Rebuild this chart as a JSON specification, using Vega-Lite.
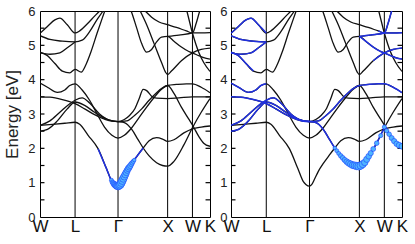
{
"$schema": "https://vega.github.io/schema/vega-lite/v6.json",
"padding": {"left": 3, "top": 4, "right": 0, "bottom": 0},
"spacing": 21,
"bounds": "flush",
"config": {"view": {"stroke": "black", "strokeWidth": 1}, "font": "Liberation Sans", "axis": {"grid": false, "domain": false, "labelColor": "#222", "titleColor": "#222"}},
"datasets": {
"sym": [{"k": 0.707}, {"k": 1.573}, {"k": 2.573}, {"k": 3.073}],
"yt": [{"v":0.5},{"v":1},{"v":1.5},{"v":2},{"v":2.5},{"v":3},{"v":3.5},{"v":4},{"v":4.5},{"v":5},{"v":5.5}],
"bands": [
{"b":"A","k":0,"e":2.67},{"b":"A","k":0.25,"e":2.7},{"b":"A","k":0.5,"e":2.73},{"b":"A","k":0.707,"e":2.76},{"b":"A","k":0.8,"e":2.7},{"b":"A","k":0.97,"e":2.38},{"b":"A","k":1.17,"e":1.99},{"b":"A","k":1.34,"e":1.41},{"b":"A","k":1.45,"e":1.03},{"b":"A","k":1.5,"e":0.95},{"b":"A","k":1.573,"e":0.9},{"b":"A","k":1.62,"e":0.95},{"b":"A","k":1.68,"e":1.12},{"b":"A","k":1.75,"e":1.33},{"b":"A","k":1.85,"e":1.56},{"b":"A","k":1.97,"e":1.8},{"b":"A","k":2.08,"e":2.01},{"b":"A","k":2.2,"e":2.22},{"b":"A","k":2.35,"e":2.31},{"b":"A","k":2.47,"e":2.27},{"b":"A","k":2.573,"e":2.2},{"b":"A","k":2.7,"e":2.25},{"b":"A","k":2.9,"e":2.45},{"b":"A","k":3.073,"e":2.57},{"b":"A","k":3.25,"e":2.62},{"b":"A","k":3.427,"e":2.65},
{"b":"B","k":0,"e":2.5},{"b":"B","k":0.15,"e":2.55},{"b":"B","k":0.35,"e":2.8},{"b":"B","k":0.55,"e":3.15},{"b":"B","k":0.707,"e":3.35},{"b":"B","k":0.9,"e":3.25},{"b":"B","k":1.1,"e":3.05},{"b":"B","k":1.3,"e":2.88},{"b":"B","k":1.45,"e":2.8},{"b":"B","k":1.573,"e":2.78},{"b":"B","k":1.7,"e":2.75},{"b":"B","k":1.85,"e":2.55},{"b":"B","k":1.97,"e":2.27},{"b":"B","k":2.08,"e":2.01},{"b":"B","k":2.2,"e":1.78},{"b":"B","k":2.35,"e":1.58},{"b":"B","k":2.47,"e":1.5},{"b":"B","k":2.573,"e":1.48},{"b":"B","k":2.7,"e":1.62},{"b":"B","k":2.9,"e":2.1},{"b":"B","k":3.073,"e":2.6},{"b":"B","k":3.25,"e":3.05},{"b":"B","k":3.427,"e":3.45},
{"b":"C","k":0,"e":2.67},{"b":"C","k":0.2,"e":2.8},{"b":"C","k":0.4,"e":3.05},{"b":"C","k":0.6,"e":3.3},{"b":"C","k":0.707,"e":3.4},{"b":"C","k":0.85,"e":3.47},{"b":"C","k":1.0,"e":3.32},{"b":"C","k":1.2,"e":3.0},{"b":"C","k":1.4,"e":2.82},{"b":"C","k":1.573,"e":2.78},{"b":"C","k":1.75,"e":2.8},{"b":"C","k":1.9,"e":2.95},{"b":"C","k":2.05,"e":3.15},{"b":"C","k":2.2,"e":3.4},{"b":"C","k":2.35,"e":3.62},{"b":"C","k":2.47,"e":3.76},{"b":"C","k":2.573,"e":3.83},{"b":"C","k":2.75,"e":3.86},{"b":"C","k":2.95,"e":3.88},{"b":"C","k":3.073,"e":3.88},{"b":"C","k":3.25,"e":3.78},{"b":"C","k":3.427,"e":3.62},
{"b":"D","k":0,"e":3.5},{"b":"D","k":0.2,"e":3.49},{"b":"D","k":0.45,"e":3.42},{"b":"D","k":0.707,"e":3.3},{"b":"D","k":0.9,"e":3.15},{"b":"D","k":1.1,"e":2.98},{"b":"D","k":1.3,"e":2.85},{"b":"D","k":1.45,"e":2.79},{"b":"D","k":1.573,"e":2.78},{"b":"D","k":1.7,"e":2.84},{"b":"D","k":1.8,"e":2.95},{"b":"D","k":1.915,"e":3.16},{"b":"D","k":2.0,"e":3.45},{"b":"D","k":2.08,"e":3.72},{"b":"D","k":2.15,"e":3.68},{"b":"D","k":2.25,"e":3.52},{"b":"D","k":2.35,"e":3.46},{"b":"D","k":2.573,"e":3.45},{"b":"D","k":2.8,"e":3.47},{"b":"D","k":3.073,"e":3.5},{"b":"D","k":3.25,"e":3.5},{"b":"D","k":3.427,"e":3.5},
{"b":"E","k":0,"e":3.9},{"b":"E","k":0.15,"e":3.78},{"b":"E","k":0.35,"e":3.63},{"b":"E","k":0.5,"e":3.7},{"b":"E","k":0.6,"e":3.83},{"b":"E","k":0.707,"e":3.88},{"b":"E","k":0.85,"e":3.7},{"b":"E","k":1.0,"e":3.4},{"b":"E","k":1.15,"e":3.0},{"b":"E","k":1.3,"e":2.62},{"b":"E","k":1.45,"e":2.38},{"b":"E","k":1.573,"e":2.3},{"b":"E","k":1.7,"e":2.38},{"b":"E","k":1.85,"e":2.6},{"b":"E","k":2.0,"e":2.9},{"b":"E","k":2.15,"e":3.2},{"b":"E","k":2.3,"e":3.48},{"b":"E","k":2.45,"e":3.72},{"b":"E","k":2.573,"e":3.83},{"b":"E","k":2.7,"e":3.6},{"b":"E","k":2.85,"e":3.2},{"b":"E","k":3.0,"e":2.85},{"b":"E","k":3.073,"e":2.68},{"b":"E","k":3.2,"e":2.35},{"b":"E","k":3.3,"e":2.15},{"b":"E","k":3.427,"e":2.06},
{"b":"F","k":0,"e":4.8},{"b":"F","k":0.15,"e":4.7},{"b":"F","k":0.3,"e":4.47},{"b":"F","k":0.45,"e":4.25},{"b":"F","k":0.6,"e":4.2},{"b":"F","k":0.707,"e":4.3},{"b":"F","k":0.83,"e":4.22},{"b":"F","k":0.93,"e":4.45},{"b":"F","k":1.03,"e":4.82},{"b":"F","k":1.15,"e":5.35},{"b":"F","k":1.3,"e":5.98},{"b":"F","k":1.4,"e":6.4},
{"b":"G","k":0,"e":5.35},{"b":"G","k":0.15,"e":5.55},{"b":"G","k":0.3,"e":5.74},{"b":"G","k":0.4,"e":5.79},{"b":"G","k":0.55,"e":5.6},{"b":"G","k":0.707,"e":5.36},{"b":"G","k":0.8,"e":5.42},{"b":"G","k":0.95,"e":5.62},{"b":"G","k":1.1,"e":5.85},{"b":"G","k":1.2,"e":6.0},{"b":"G","k":1.3,"e":6.2},
{"b":"H","k":0,"e":5.28},{"b":"H","k":0.2,"e":5.17},{"b":"H","k":0.45,"e":5.12},{"b":"H","k":0.707,"e":5.1},{"b":"H","k":0.85,"e":5.15},{"b":"H","k":1.0,"e":5.4},{"b":"H","k":1.15,"e":5.75},{"b":"H","k":1.27,"e":6.0},{"b":"H","k":1.35,"e":6.2},
{"b":"I","k":0,"e":4.78},{"b":"I","k":0.2,"e":4.74},{"b":"I","k":0.4,"e":4.78},{"b":"I","k":0.55,"e":4.93},{"b":"I","k":0.707,"e":5.1},
{"b":"K1","k":1.75,"e":6.3},{"b":"K1","k":1.85,"e":5.95},{"b":"K1","k":1.95,"e":5.5},{"b":"K1","k":2.05,"e":5.05},{"b":"K1","k":2.15,"e":4.8},{"b":"K1","k":2.25,"e":4.88},{"b":"K1","k":2.35,"e":5.1},{"b":"K1","k":2.45,"e":5.24},{"b":"K1","k":2.573,"e":5.26},{"b":"K1","k":2.7,"e":5.12},{"b":"K1","k":2.85,"e":4.95},{"b":"K1","k":3.0,"e":4.82},{"b":"K1","k":3.073,"e":4.78},{"b":"K1","k":3.2,"e":4.7},{"b":"K1","k":3.3,"e":4.64},{"b":"K1","k":3.427,"e":4.6},
{"b":"K2","k":1.95,"e":6.2},{"b":"K2","k":2.02,"e":6.0},{"b":"K2","k":2.15,"e":5.6},{"b":"K2","k":2.3,"e":5.05},{"b":"K2","k":2.45,"e":4.5},{"b":"K2","k":2.53,"e":4.22},{"b":"K2","k":2.573,"e":4.15},{"b":"K2","k":2.65,"e":4.25},{"b":"K2","k":2.85,"e":4.55},{"b":"K2","k":3.073,"e":4.78},{"b":"K2","k":3.25,"e":4.88},{"b":"K2","k":3.427,"e":4.92},
{"b":"K3","k":2.05,"e":6.1},{"b":"K3","k":2.12,"e":6.0},{"b":"K3","k":2.25,"e":5.82},{"b":"K3","k":2.4,"e":5.68},{"b":"K3","k":2.573,"e":5.6},{"b":"K3","k":2.75,"e":5.52},{"b":"K3","k":2.95,"e":5.42},{"b":"K3","k":3.073,"e":5.36},{"b":"K3","k":3.25,"e":5.36},{"b":"K3","k":3.427,"e":5.37},
{"b":"S","k":2.9,"e":6.3},{"b":"S","k":2.96,"e":6.0},{"b":"S","k":3.073,"e":5.36},{"b":"S","k":3.2,"e":4.8},{"b":"S","k":3.3,"e":4.5},{"b":"S","k":3.427,"e":4.24},
{"b":"U","k":2.573,"e":5.26},{"b":"U","k":2.8,"e":5.3},{"b":"U","k":3.073,"e":5.36},{"b":"U","k":3.15,"e":5.65},{"b":"U","k":3.22,"e":6.0},{"b":"U","k":3.3,"e":6.3}
],
"blueR": [
{"s":"B","k":0,"e":2.5},{"s":"B","k":0.15,"e":2.55},{"s":"B","k":0.35,"e":2.8},{"s":"B","k":0.55,"e":3.15},{"s":"B","k":0.707,"e":3.35},{"s":"B","k":0.9,"e":3.25},{"s":"B","k":1.1,"e":3.05},{"s":"B","k":1.3,"e":2.88},{"s":"B","k":1.45,"e":2.8},{"s":"B","k":1.573,"e":2.78},{"s":"B","k":1.7,"e":2.75},{"s":"B","k":1.85,"e":2.55},{"s":"B","k":1.97,"e":2.27},{"s":"B","k":2.08,"e":2.01},{"s":"B","k":2.2,"e":1.78},{"s":"B","k":2.35,"e":1.58},{"s":"B","k":2.47,"e":1.5},{"s":"B","k":2.573,"e":1.48},{"s":"B","k":2.7,"e":1.62},{"s":"B","k":2.9,"e":2.1},{"s":"B","k":3.073,"e":2.6},
{"s":"C","k":0,"e":2.67},{"s":"C","k":0.2,"e":2.8},{"s":"C","k":0.4,"e":3.05},{"s":"C","k":0.6,"e":3.3},{"s":"C","k":0.707,"e":3.4},{"s":"C","k":0.85,"e":3.47},{"s":"C","k":1.0,"e":3.32},{"s":"C","k":1.2,"e":3.0},{"s":"C","k":1.4,"e":2.82},{"s":"C","k":1.573,"e":2.78},{"s":"C","k":1.75,"e":2.8},{"s":"C","k":1.9,"e":2.95},{"s":"C","k":2.05,"e":3.15},{"s":"C","k":2.2,"e":3.4},{"s":"C","k":2.35,"e":3.62},{"s":"C","k":2.47,"e":3.76},{"s":"C","k":2.573,"e":3.83},{"s":"C","k":2.75,"e":3.86},{"s":"C","k":2.95,"e":3.88},{"s":"C","k":3.073,"e":3.88},{"s":"C","k":3.25,"e":3.78},{"s":"C","k":3.427,"e":3.62},
{"s":"D","k":0,"e":3.5},{"s":"D","k":0.2,"e":3.49},{"s":"D","k":0.45,"e":3.42},{"s":"D","k":0.707,"e":3.3},{"s":"D","k":0.9,"e":3.15},{"s":"D","k":1.1,"e":2.98},{"s":"D","k":1.3,"e":2.85},{"s":"D","k":1.45,"e":2.79},{"s":"D","k":1.573,"e":2.78},
{"s":"E","k":0,"e":3.9},{"s":"E","k":0.15,"e":3.78},{"s":"E","k":0.35,"e":3.63},{"s":"E","k":0.5,"e":3.7},{"s":"E","k":0.6,"e":3.83},{"s":"E","k":0.707,"e":3.88},
{"s":"E2","k":3.073,"e":2.68},{"s":"E2","k":3.2,"e":2.35},{"s":"E2","k":3.3,"e":2.15},{"s":"E2","k":3.427,"e":2.06},
{"s":"F","k":0,"e":4.8},{"s":"F","k":0.15,"e":4.7},{"s":"F","k":0.3,"e":4.47},{"s":"F","k":0.45,"e":4.25},
{"s":"G","k":0,"e":5.35},{"s":"G","k":0.15,"e":5.55},{"s":"G","k":0.3,"e":5.74},{"s":"G","k":0.4,"e":5.79},{"s":"G","k":0.55,"e":5.6},{"s":"G","k":0.707,"e":5.36},
{"s":"H","k":0,"e":5.28},{"s":"H","k":0.2,"e":5.17},{"s":"H","k":0.45,"e":5.12},{"s":"H","k":0.707,"e":5.1},
{"s":"I","k":0,"e":4.78},{"s":"I","k":0.2,"e":4.74},{"s":"I","k":0.4,"e":4.78},{"s":"I","k":0.55,"e":4.93},{"s":"I","k":0.707,"e":5.1},
{"s":"K1","k":2.573,"e":5.26},{"s":"K1","k":2.7,"e":5.12},{"s":"K1","k":2.85,"e":4.95},{"s":"K1","k":3.0,"e":4.82},{"s":"K1","k":3.073,"e":4.78},{"s":"K1","k":3.2,"e":4.7},{"s":"K1","k":3.3,"e":4.64},{"s":"K1","k":3.427,"e":4.6},
{"s":"K2","k":2.85,"e":4.55},{"s":"K2","k":3.073,"e":4.78},{"s":"K2","k":3.25,"e":4.88},{"s":"K2","k":3.427,"e":4.92},
{"s":"K3","k":2.95,"e":5.42},{"s":"K3","k":3.073,"e":5.36},{"s":"K3","k":3.25,"e":5.36},{"s":"K3","k":3.427,"e":5.37},
{"s":"U","k":2.573,"e":5.26},{"s":"U","k":2.8,"e":5.3},{"s":"U","k":3.073,"e":5.36},{"s":"U","k":3.15,"e":5.65},{"s":"U","k":3.22,"e":6.0},{"s":"U","k":3.3,"e":6.3}
],
"blueL": [
{"s":"A","k":1.17,"e":1.99},{"s":"A","k":1.34,"e":1.41},{"s":"A","k":1.45,"e":1.03},{"s":"A","k":1.5,"e":0.95},{"s":"A","k":1.573,"e":0.9},{"s":"A","k":1.62,"e":0.95},{"s":"A","k":1.68,"e":1.12},{"s":"A","k":1.75,"e":1.33},{"s":"A","k":1.85,"e":1.56},{"s":"A","k":1.97,"e":1.8},{"s":"A","k":2.08,"e":2.01}
],
"fatL": [
{"k":1.44,"e":1.07,"w":2},{"k":1.46,"e":1.01,"w":2.5},{"k":1.48,"e":0.98,"w":3},{"k":1.5,"e":0.95,"w":4},{"k":1.52,"e":0.93,"w":4.5},{"k":1.54,"e":0.91,"w":5},{"k":1.56,"e":0.9,"w":6},{"k":1.58,"e":0.9,"w":6.5},{"k":1.6,"e":0.92,"w":6.5},{"k":1.62,"e":0.95,"w":7},{"k":1.64,"e":1.0,"w":7},{"k":1.66,"e":1.06,"w":7},{"k":1.68,"e":1.12,"w":6.5},{"k":1.7,"e":1.18,"w":6},{"k":1.72,"e":1.24,"w":5.5},{"k":1.74,"e":1.3,"w":5},{"k":1.76,"e":1.36,"w":4.5},{"k":1.78,"e":1.41,"w":4.5},{"k":1.8,"e":1.45,"w":4},{"k":1.82,"e":1.49,"w":3.5},{"k":1.84,"e":1.54,"w":3},{"k":1.86,"e":1.58,"w":2.5},{"k":1.88,"e":1.62,"w":2},{"k":1.9,"e":1.66,"w":1.5}
],
"fatR": [
{"k":2.08,"e":2.01,"w":1.5},{"k":2.12,"e":1.93,"w":1.8},{"k":2.16,"e":1.85,"w":2},{"k":2.2,"e":1.78,"w":2.5},{"k":2.24,"e":1.72,"w":2.8},{"k":2.28,"e":1.66,"w":3.2},{"k":2.32,"e":1.61,"w":3.8},{"k":2.36,"e":1.57,"w":4.5},{"k":2.4,"e":1.54,"w":5},{"k":2.44,"e":1.51,"w":5.5},{"k":2.48,"e":1.5,"w":6},{"k":2.52,"e":1.485,"w":6.5},{"k":2.56,"e":1.48,"w":7},{"k":2.6,"e":1.5,"w":6.5},{"k":2.64,"e":1.54,"w":6},{"k":2.68,"e":1.59,"w":5},{"k":2.72,"e":1.68,"w":4.5},{"k":2.76,"e":1.77,"w":3.8},{"k":2.8,"e":1.86,"w":3.2},{"k":2.85,"e":1.98,"w":2.8},{"k":2.92,"e":2.15,"w":2.5},{"k":3.0,"e":2.37,"w":2},{"k":3.073,"e":2.62,"w":2},{"k":3.12,"e":2.51,"w":2.2},{"k":3.17,"e":2.41,"w":2.5},{"k":3.22,"e":2.3,"w":3},{"k":3.27,"e":2.21,"w":3.3},{"k":3.32,"e":2.13,"w":3.6},{"k":3.37,"e":2.09,"w":4},{"k":3.427,"e":2.06,"w":4}
]
},
"hconcat": [
{
"width": 170, "height": 206,
"layer": [
{"data": {"name": "sym"}, "mark": {"type": "rule", "color": "black", "strokeWidth": 1},
 "encoding": {"x": {"field": "k", "type": "quantitative", "scale": {"domain": [0, 3.427], "nice": false, "zero": false},
  "axis": {"values": [0, 0.707, 1.573, 2.573, 3.073, 3.427], "labelExpr": "datum.value < 0.3 ? 'W' : datum.value < 1 ? 'L' : datum.value < 2 ? 'Γ' : datum.value < 2.8 ? 'X' : datum.value < 3.3 ? 'W' : 'K'", "ticks": false, "title": null, "labelFontSize": 17, "labelPadding": 1, "labelFlush": false, "labelColor": "#111"}}}},
{"data": {"name": "yt"}, "mark": {"type": "rule", "color": "black", "strokeWidth": 1.2},
 "encoding": {"x": {"datum": 0, "type": "quantitative", "axis": {"values": [0, 0.707, 1.573, 2.573, 3.073, 3.427], "labelExpr": "datum.value < 0.3 ? 'W' : datum.value < 1 ? 'L' : datum.value < 2 ? 'Γ' : datum.value < 2.8 ? 'X' : datum.value < 3.3 ? 'W' : 'K'", "ticks": false, "title": null, "labelFontSize": 17, "labelPadding": 1, "labelFlush": false, "labelColor": "#111"}}, "x2": {"datum": 0.09},
  "y": {"field": "v", "type": "quantitative", "scale": {"domain": [0, 6], "nice": false},
   "axis": {"orient": "left", "values": [0,1,2,3,4,5,6], "format": "d", "ticks": false, "labelFontSize": 13, "labelPadding": 5, "title": "Energy [eV]", "titleFontSize": 17, "titleFontWeight": "normal", "titlePadding": 6}}}},
{"data": {"name": "yt"}, "mark": {"type": "rule", "color": "black", "strokeWidth": 1.2},
 "encoding": {"x": {"datum": 3.337, "type": "quantitative", "axis": {"values": [0, 0.707, 1.573, 2.573, 3.073, 3.427], "labelExpr": "datum.value < 0.3 ? 'W' : datum.value < 1 ? 'L' : datum.value < 2 ? 'Γ' : datum.value < 2.8 ? 'X' : datum.value < 3.3 ? 'W' : 'K'", "ticks": false, "title": null, "labelFontSize": 17, "labelPadding": 1, "labelFlush": false, "labelColor": "#111"}}, "x2": {"datum": 3.427},
  "y": {"field": "v", "type": "quantitative", "axis": {"orient": "left", "values": [0,1,2,3,4,5,6], "format": "d", "ticks": false, "labelFontSize": 13, "labelPadding": 5, "title": "Energy [eV]", "titleFontSize": 17, "titleFontWeight": "normal", "titlePadding": 6}}}},
{"data": {"name": "bands"}, "mark": {"type": "line", "color": "#111", "strokeWidth": 1.3, "interpolate": "monotone", "clip": true},
 "encoding": {"x": {"field": "k", "type": "quantitative",
  "axis": {"values": [0, 0.707, 1.573, 2.573, 3.073, 3.427], "labelExpr": "datum.value < 0.3 ? 'W' : datum.value < 1 ? 'L' : datum.value < 2 ? 'Γ' : datum.value < 2.8 ? 'X' : datum.value < 3.3 ? 'W' : 'K'", "ticks": false, "title": null, "labelFontSize": 17, "labelPadding": 1, "labelFlush": false, "labelColor": "#111"}},
  "y": {"field": "e", "type": "quantitative", "axis": {"orient": "left", "values": [0,1,2,3,4,5,6], "format": "d", "ticks": false, "labelFontSize": 13, "labelPadding": 5, "title": "Energy [eV]", "titleFontSize": 17, "titleFontWeight": "normal", "titlePadding": 6}},
  "detail": {"field": "b", "type": "nominal"}}},
{"data": {"name": "blueL"}, "mark": {"type": "line", "color": "#2030e0", "strokeWidth": 1.5, "interpolate": "monotone", "clip": true},
 "encoding": {"x": {"field": "k", "type": "quantitative",
  "axis": {"values": [0, 0.707, 1.573, 2.573, 3.073, 3.427], "labelExpr": "datum.value < 0.3 ? 'W' : datum.value < 1 ? 'L' : datum.value < 2 ? 'Γ' : datum.value < 2.8 ? 'X' : datum.value < 3.3 ? 'W' : 'K'", "ticks": false, "title": null, "labelFontSize": 17, "labelPadding": 1, "labelFlush": false, "labelColor": "#111"}},
  "y": {"field": "e", "type": "quantitative", "axis": {"orient": "left", "values": [0,1,2,3,4,5,6], "format": "d", "ticks": false, "labelFontSize": 13, "labelPadding": 5, "title": "Energy [eV]", "titleFontSize": 17, "titleFontWeight": "normal", "titlePadding": 6}}, "detail": {"field": "s", "type": "nominal"}}},
{"data": {"name": "fatL"}, "mark": {"type": "point", "shape": "circle", "filled": true, "fill": "#4fb4ff", "stroke": "#1c40ff", "strokeWidth": 0.6, "opacity": 1, "clip": true},
 "encoding": {"x": {"field": "k", "type": "quantitative",
  "axis": {"values": [0, 0.707, 1.573, 2.573, 3.073, 3.427], "labelExpr": "datum.value < 0.3 ? 'W' : datum.value < 1 ? 'L' : datum.value < 2 ? 'Γ' : datum.value < 2.8 ? 'X' : datum.value < 3.3 ? 'W' : 'K'", "ticks": false, "title": null, "labelFontSize": 17, "labelPadding": 1, "labelFlush": false, "labelColor": "#111"}},
  "y": {"field": "e", "type": "quantitative", "axis": {"orient": "left", "values": [0,1,2,3,4,5,6], "format": "d", "ticks": false, "labelFontSize": 13, "labelPadding": 5, "title": "Energy [eV]", "titleFontSize": 17, "titleFontWeight": "normal", "titlePadding": 6}},
  "size": {"field": "w", "type": "quantitative", "scale": {"domain": [0, 7], "range": [0, 60]}, "legend": null}}}
]
},
{
"width": 171, "height": 206,
"layer": [
{"data": {"name": "sym"}, "mark": {"type": "rule", "color": "black", "strokeWidth": 1},
 "encoding": {"x": {"field": "k", "type": "quantitative", "scale": {"domain": [0, 3.427], "nice": false, "zero": false},
  "axis": {"values": [0, 0.707, 1.573, 2.573, 3.073, 3.427], "labelExpr": "datum.value < 0.3 ? 'W' : datum.value < 1 ? 'L' : datum.value < 2 ? 'Γ' : datum.value < 2.8 ? 'X' : datum.value < 3.3 ? 'W' : 'K'", "ticks": false, "title": null, "labelFontSize": 17, "labelPadding": 1, "labelFlush": false, "labelColor": "#111"}}}},
{"data": {"name": "yt"}, "mark": {"type": "rule", "color": "black", "strokeWidth": 1.2},
 "encoding": {"x": {"datum": 0, "type": "quantitative", "axis": {"values": [0, 0.707, 1.573, 2.573, 3.073, 3.427], "labelExpr": "datum.value < 0.3 ? 'W' : datum.value < 1 ? 'L' : datum.value < 2 ? 'Γ' : datum.value < 2.8 ? 'X' : datum.value < 3.3 ? 'W' : 'K'", "ticks": false, "title": null, "labelFontSize": 17, "labelPadding": 1, "labelFlush": false, "labelColor": "#111"}}, "x2": {"datum": 0.09},
  "y": {"field": "v", "type": "quantitative", "scale": {"domain": [0, 6], "nice": false},
   "axis": {"orient": "left", "values": [0,1,2,3,4,5,6], "format": "d", "ticks": false, "labelFontSize": 13, "labelPadding": 4, "title": null}}}},
{"data": {"name": "yt"}, "mark": {"type": "rule", "color": "black", "strokeWidth": 1.2},
 "encoding": {"x": {"datum": 3.337, "type": "quantitative", "axis": {"values": [0, 0.707, 1.573, 2.573, 3.073, 3.427], "labelExpr": "datum.value < 0.3 ? 'W' : datum.value < 1 ? 'L' : datum.value < 2 ? 'Γ' : datum.value < 2.8 ? 'X' : datum.value < 3.3 ? 'W' : 'K'", "ticks": false, "title": null, "labelFontSize": 17, "labelPadding": 1, "labelFlush": false, "labelColor": "#111"}}, "x2": {"datum": 3.427},
  "y": {"field": "v", "type": "quantitative", "axis": {"orient": "left", "values": [0,1,2,3,4,5,6], "format": "d", "ticks": false, "labelFontSize": 13, "labelPadding": 4, "title": null}}}},
{"data": {"name": "bands"}, "mark": {"type": "line", "color": "#111", "strokeWidth": 1.3, "interpolate": "monotone", "clip": true},
 "encoding": {"x": {"field": "k", "type": "quantitative",
  "axis": {"values": [0, 0.707, 1.573, 2.573, 3.073, 3.427], "labelExpr": "datum.value < 0.3 ? 'W' : datum.value < 1 ? 'L' : datum.value < 2 ? 'Γ' : datum.value < 2.8 ? 'X' : datum.value < 3.3 ? 'W' : 'K'", "ticks": false, "title": null, "labelFontSize": 17, "labelPadding": 1, "labelFlush": false, "labelColor": "#111"}},
  "y": {"field": "e", "type": "quantitative", "axis": {"orient": "left", "values": [0,1,2,3,4,5,6], "format": "d", "ticks": false, "labelFontSize": 13, "labelPadding": 4, "title": null}},
  "detail": {"field": "b", "type": "nominal"}}},
{"data": {"name": "blueR"}, "mark": {"type": "line", "color": "#2030e0", "strokeWidth": 1.5, "interpolate": "monotone", "clip": true},
 "encoding": {"x": {"field": "k", "type": "quantitative",
  "axis": {"values": [0, 0.707, 1.573, 2.573, 3.073, 3.427], "labelExpr": "datum.value < 0.3 ? 'W' : datum.value < 1 ? 'L' : datum.value < 2 ? 'Γ' : datum.value < 2.8 ? 'X' : datum.value < 3.3 ? 'W' : 'K'", "ticks": false, "title": null, "labelFontSize": 17, "labelPadding": 1, "labelFlush": false, "labelColor": "#111"}},
  "y": {"field": "e", "type": "quantitative", "axis": {"orient": "left", "values": [0,1,2,3,4,5,6], "format": "d", "ticks": false, "labelFontSize": 13, "labelPadding": 4, "title": null}}, "detail": {"field": "s", "type": "nominal"}}},
{"data": {"name": "fatR"}, "mark": {"type": "point", "shape": "circle", "filled": true, "fill": "#4fb4ff", "stroke": "#1c40ff", "strokeWidth": 0.6, "opacity": 1, "clip": true},
 "encoding": {"x": {"field": "k", "type": "quantitative",
  "axis": {"values": [0, 0.707, 1.573, 2.573, 3.073, 3.427], "labelExpr": "datum.value < 0.3 ? 'W' : datum.value < 1 ? 'L' : datum.value < 2 ? 'Γ' : datum.value < 2.8 ? 'X' : datum.value < 3.3 ? 'W' : 'K'", "ticks": false, "title": null, "labelFontSize": 17, "labelPadding": 1, "labelFlush": false, "labelColor": "#111"}},
  "y": {"field": "e", "type": "quantitative", "axis": {"orient": "left", "values": [0,1,2,3,4,5,6], "format": "d", "ticks": false, "labelFontSize": 13, "labelPadding": 4, "title": null}},
  "size": {"field": "w", "type": "quantitative", "scale": {"domain": [0, 7], "range": [0, 60]}, "legend": null}}}
]
}
]
}
